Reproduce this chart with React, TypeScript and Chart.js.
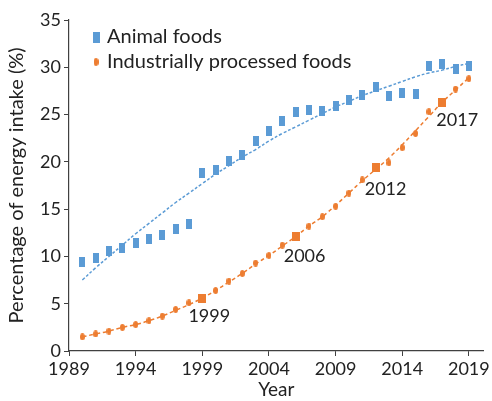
import React, { useEffect, useRef } from 'react';
import { Chart, registerables } from 'chart.js';

Chart.register(...registerables);

const years = [1990, 1991, 1992, 1993, 1994, 1995, 1996, 1997, 1998, 1999, 2000, 2001, 2002, 2003, 2004, 2005, 2006, 2007, 2008, 2009, 2010, 2011, 2012, 2013, 2014, 2015, 2016, 2017, 2018, 2019];
const animalFoods = [9.4, 9.8, 10.6, 10.9, 11.4, 11.8, 12.3, 12.9, 13.4, 18.8, 19.1, 20.1, 20.7, 22.2, 23.3, 24.3, 25.3, 25.5, 25.4, 25.9, 26.5, 27.1, 27.9, 27.0, 27.3, 27.2, 30.1, 30.4, 29.8, 30.1];
const animalTrend = [7.5, 8.8, 10.0, 11.2, 12.4, 13.5, 14.6, 15.7, 16.7, 17.7, 18.7, 19.6, 20.5, 21.3, 22.2, 23.0, 23.7, 24.4, 25.1, 25.8, 26.4, 27.0, 27.5, 28.0, 28.5, 29.0, 29.4, 29.7, 30.1, 30.4];
const processedFoods = [1.5, 1.8, 2.1, 2.5, 2.8, 3.2, 3.7, 4.4, 5.1, 5.6, 6.4, 7.4, 8.2, 9.3, 10.1, 11.2, 12.1, 13.2, 14.2, 15.3, 16.7, 18.1, 19.4, 19.9, 21.5, 23.0, 25.3, 26.3, 27.7, 28.8];
const processedTrend = [1.5, 1.8, 2.1, 2.5, 2.8, 3.2, 3.7, 4.3, 4.9, 5.6, 6.4, 7.3, 8.2, 9.2, 10.1, 11.1, 12.1, 13.2, 14.2, 15.4, 16.7, 18.0, 19.2, 20.4, 21.8, 23.3, 24.8, 26.3, 27.6, 28.9];
const highlightYears = [1999, 2006, 2012, 2017];
const xTickValues = [1989, 1994, 1999, 2004, 2009, 2014, 2019];
const legendLabels = ['Animal foods', 'Industrially processed foods'];
const yTitle = 'Percentage of energy intake (%)';
const xTitle = 'Year';

const BLUE = '#5B9BD5';
const ORANGE = '#ED7D31';
const TEXT = '#222222';
const AXIS = '#404040';
const FONT = 'Lato, "Open Sans", sans-serif';

const labelOffsets: Record<number, [number, number]> = {
  1999: [7, 18],
  2006: [9, 20],
  2012: [10, 22],
  2017: [15, 18],
};

function makeRect(w: number, h: number, color: string) {
  const c = document.createElement('canvas');
  c.width = w;
  c.height = h;
  const ctx = c.getContext('2d')!;
  ctx.fillStyle = color;
  ctx.fillRect(0, 0, w, h);
  return c;
}

function makeEllipse(w: number, h: number, color: string) {
  const c = document.createElement('canvas');
  c.width = w;
  c.height = h;
  const ctx = c.getContext('2d')!;
  ctx.fillStyle = color;
  ctx.beginPath();
  ctx.ellipse(w / 2, h / 2, w / 2, h / 2, 0, 0, Math.PI * 2);
  ctx.fill();
  return c;
}

export default function App() {
  const ref = useRef<HTMLCanvasElement | null>(null);

  useEffect(() => {
    document.body.style.margin = '0';
    const blueRect = makeRect(6, 10, BLUE);
    const orangeDot = makeEllipse(5, 7, ORANGE);
    const orangeSquare = makeRect(8, 9, ORANGE);
    const legendBlue = makeRect(7, 11, BLUE);
    const legendOrange = makeEllipse(5, 8, ORANGE);

    const overlay = {
      id: 'overlay',
      afterDatasetsDraw(chart: any) {
        const ctx = chart.ctx;
        const xs = chart.scales.x;
        const ys = chart.scales.y;
        ctx.save();
        ctx.font = `18px ${FONT}`;
        ctx.fillStyle = TEXT;
        ctx.textAlign = 'center';
        ctx.textBaseline = 'middle';
        highlightYears.forEach((yr) => {
          const i = years.indexOf(yr);
          const px = xs.getPixelForValue(yr);
          const py = ys.getPixelForValue(processedFoods[i]);
          const [dx, dy] = labelOffsets[yr];
          ctx.fillText(String(yr), px + dx, py + dy);
        });
        // legend
        const lx = chart.chartArea.left + 27;
        const ly1 = chart.chartArea.top + 17;
        const ly2 = chart.chartArea.top + 42;
        ctx.drawImage(legendBlue, lx - 3.5, ly1 - 5.5);
        ctx.drawImage(legendOrange, lx - 2.5, ly2 - 4);
        ctx.font = `20px ${FONT}`;
        ctx.textAlign = 'left';
        ctx.fillText(legendLabels[0], lx + 11, ly1);
        ctx.fillText(legendLabels[1], lx + 11, ly2);
        ctx.restore();
      },
    };

    const chart = new Chart(ref.current!, {
      type: 'line',
      data: {
        datasets: [
          {
            label: legendLabels[0] + ' trend',
            data: years.map((y, i) => ({ x: y, y: animalTrend[i] })),
            borderColor: BLUE,
            borderWidth: 1.5,
            borderDash: [3, 2],
            pointRadius: 0,
            tension: 0.4,
            fill: false,
          },
          {
            label: legendLabels[1] + ' trend',
            data: years.map((y, i) => ({ x: y, y: processedTrend[i] })),
            borderColor: ORANGE,
            borderWidth: 1.5,
            borderDash: [4, 3],
            pointRadius: 0,
            tension: 0.4,
            fill: false,
          },
          {
            label: legendLabels[0],
            data: years.map((y, i) => ({ x: y, y: animalFoods[i] })),
            showLine: false,
            pointStyle: blueRect as any,
            pointRadius: 5,
            backgroundColor: BLUE,
            borderColor: BLUE,
          },
          {
            label: legendLabels[1],
            data: years.map((y, i) => ({ x: y, y: processedFoods[i] })),
            showLine: false,
            pointStyle: years.map((y) => (highlightYears.includes(y) ? orangeSquare : orangeDot)) as any,
            pointRadius: 5,
            backgroundColor: ORANGE,
            borderColor: ORANGE,
          },
        ],
      },
      options: {
        animation: false,
        responsive: false,
        maintainAspectRatio: false,
        layout: { padding: { top: 20, right: 7, left: 0, bottom: 0 } },
        plugins: {
          legend: { display: false },
          tooltip: { enabled: false },
        },
        scales: {
          x: {
            type: 'linear',
            min: 1989,
            max: 2020.1,
            afterBuildTicks: (scale: any) => {
              scale.ticks = xTickValues.map((v) => ({ value: v }));
            },
            afterFit: (scale: any) => {
              scale.height = 50;
            },
            ticks: {
              font: { family: FONT, size: 18 },
              color: TEXT,
              padding: 2,
              maxRotation: 0,
              autoSkip: false,
              callback: (v: any) => String(v),
            },
            grid: { display: true, drawOnChartArea: false, drawTicks: true, tickLength: 5, color: AXIS },
            border: { display: true, color: AXIS, width: 1.2 },
            title: {
              display: true,
              text: xTitle,
              font: { family: FONT, size: 19 },
              color: TEXT,
              padding: { top: 0, bottom: 0 },
            },
          },
          y: {
            min: 0,
            max: 35,
            ticks: {
              stepSize: 5,
              font: { family: FONT, size: 18 },
              color: TEXT,
              padding: 3,
            },
            afterFit: (scale: any) => {
              scale.width = 69;
            },
            grid: { display: true, drawOnChartArea: false, drawTicks: true, tickLength: 5, color: AXIS },
            border: { display: true, color: AXIS, width: 1.2 },
            title: {
              display: true,
              text: yTitle,
              font: { family: FONT, size: 20 },
              color: TEXT,
              padding: { top: 5, bottom: 0 },
            },
          },
        },
      },
      plugins: [overlay],
    });
    return () => chart.destroy();
  }, []);

  return (
    <div style={{ position: 'absolute', left: 0, top: 0, width: 492, height: 401 }}>
      <canvas ref={ref} width={492} height={401} style={{ width: 492, height: 401 }} />
    </div>
  );
}
